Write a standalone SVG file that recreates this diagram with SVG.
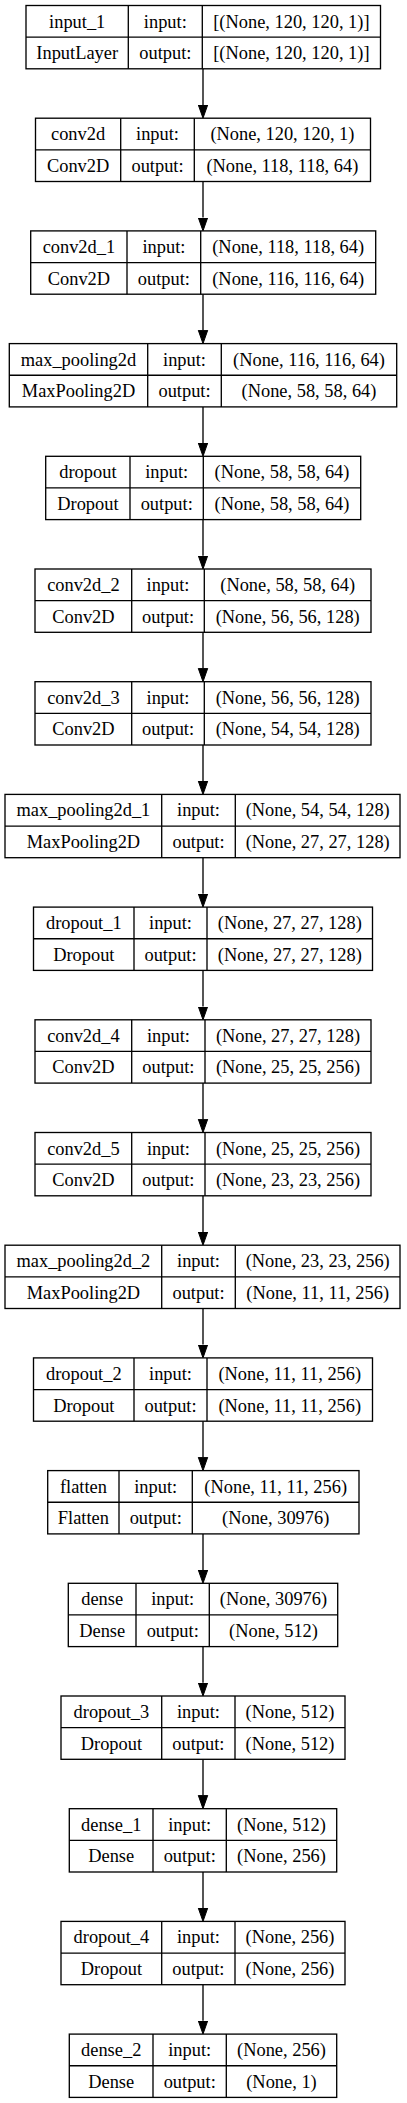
<svg xmlns="http://www.w3.org/2000/svg" width="407" height="2103" viewBox="0 0 407 2103" font-size="18.4">
<style>
.box{fill:#fff;stroke:#000;stroke-width:1.33}
.ln{stroke:#000;stroke-width:1.33;fill:none}
text{fill:#000;text-anchor:middle;font-family:"Liberation Serif","Times New Roman",serif}
.edge{stroke:#000;stroke-width:1.33;fill:none;marker-end:url(#arr)}
</style>
<defs>
<marker id="arr" markerUnits="userSpaceOnUse" markerWidth="16" markerHeight="12" refX="0" refY="0" viewBox="0 -6 16 12" orient="auto">
<path d="M0,-4.7 L13.3,0 L0,4.7 z" fill="#000" stroke="#000" stroke-width="1"/>
</marker>
</defs>
<rect width="407" height="2103" fill="#fff"/>
<g id="connectors">
<line class="edge" x1="203" y1="68.8" x2="203" y2="104.9"/>
<line class="edge" x1="203" y1="181.5" x2="203" y2="217.6"/>
<line class="edge" x1="203" y1="294.2" x2="203" y2="330.3"/>
<line class="edge" x1="203" y1="406.9" x2="203" y2="443.0"/>
<line class="edge" x1="203" y1="519.6" x2="203" y2="555.7"/>
<line class="edge" x1="203" y1="632.3" x2="203" y2="668.4"/>
<line class="edge" x1="203" y1="745.0" x2="203" y2="781.1"/>
<line class="edge" x1="203" y1="857.7" x2="203" y2="893.8"/>
<line class="edge" x1="203" y1="970.4" x2="203" y2="1006.5"/>
<line class="edge" x1="203" y1="1083.1" x2="203" y2="1119.2"/>
<line class="edge" x1="203" y1="1195.8" x2="203" y2="1231.9"/>
<line class="edge" x1="203" y1="1308.5" x2="203" y2="1344.6"/>
<line class="edge" x1="203" y1="1421.2" x2="203" y2="1457.3"/>
<line class="edge" x1="203" y1="1533.9" x2="203" y2="1570.0"/>
<line class="edge" x1="203" y1="1646.6" x2="203" y2="1682.7"/>
<line class="edge" x1="203" y1="1759.3" x2="203" y2="1795.4"/>
<line class="edge" x1="203" y1="1872.0" x2="203" y2="1908.1"/>
<line class="edge" x1="203" y1="1984.7" x2="203" y2="2020.8"/>
</g>

<g id="input_1" transform="translate(0,5.5)">
<rect class="box" x="26" y="0" width="354.5" height="63.3"/>
<line class="ln" x1="26" y1="31.65" x2="380.5" y2="31.65"/>
<line class="ln" x1="128.3" y1="0" x2="128.3" y2="63.3"/>
<line class="ln" x1="202.3" y1="0" x2="202.3" y2="63.3"/>
<text x="77.2" y="22">input_1</text><text x="77.2" y="53.7">InputLayer</text>
<text x="165.3" y="22">input:</text><text x="165.3" y="53.7">output:</text>
<text x="291.4" y="22">[(None, 120, 120, 1)]</text><text x="291.4" y="53.7">[(None, 120, 120, 1)]</text>
</g>

<g id="conv2d" transform="translate(0,118.2)">
<rect class="box" x="35.5" y="0" width="335" height="63.3"/>
<line class="ln" x1="35.5" y1="31.65" x2="370.5" y2="31.65"/>
<line class="ln" x1="120.7" y1="0" x2="120.7" y2="63.3"/>
<line class="ln" x1="194.3" y1="0" x2="194.3" y2="63.3"/>
<text x="78.1" y="22">conv2d</text><text x="78.1" y="53.7">Conv2D</text>
<text x="157.5" y="22">input:</text><text x="157.5" y="53.7">output:</text>
<text x="282.4" y="22">(None, 120, 120, 1)</text><text x="282.4" y="53.7">(None, 118, 118, 64)</text>
</g>

<g id="conv2d_1" transform="translate(0,230.9)">
<rect class="box" x="30.7" y="0" width="345" height="63.3"/>
<line class="ln" x1="30.7" y1="31.65" x2="375.7" y2="31.65"/>
<line class="ln" x1="127" y1="0" x2="127" y2="63.3"/>
<line class="ln" x1="200.7" y1="0" x2="200.7" y2="63.3"/>
<text x="78.9" y="22">conv2d_1</text><text x="78.9" y="53.7">Conv2D</text>
<text x="163.9" y="22">input:</text><text x="163.9" y="53.7">output:</text>
<text x="288.2" y="22">(None, 118, 118, 64)</text><text x="288.2" y="53.7">(None, 116, 116, 64)</text>
</g>

<g id="max_pooling2d" transform="translate(0,343.6)">
<rect class="box" x="9.3" y="0" width="387.4" height="63.3"/>
<line class="ln" x1="9.3" y1="31.65" x2="396.7" y2="31.65"/>
<line class="ln" x1="147.7" y1="0" x2="147.7" y2="63.3"/>
<line class="ln" x1="221.3" y1="0" x2="221.3" y2="63.3"/>
<text x="78.5" y="22">max_pooling2d</text><text x="78.5" y="53.7">MaxPooling2D</text>
<text x="184.5" y="22">input:</text><text x="184.5" y="53.7">output:</text>
<text x="309" y="22">(None, 116, 116, 64)</text><text x="309" y="53.7">(None, 58, 58, 64)</text>
</g>

<g id="dropout" transform="translate(0,456.3)">
<rect class="box" x="45.7" y="0" width="315" height="63.3"/>
<line class="ln" x1="45.7" y1="31.65" x2="360.7" y2="31.65"/>
<line class="ln" x1="130" y1="0" x2="130" y2="63.3"/>
<line class="ln" x1="203.3" y1="0" x2="203.3" y2="63.3"/>
<text x="87.9" y="22">dropout</text><text x="87.9" y="53.7">Dropout</text>
<text x="166.7" y="22">input:</text><text x="166.7" y="53.7">output:</text>
<text x="282" y="22">(None, 58, 58, 64)</text><text x="282" y="53.7">(None, 58, 58, 64)</text>
</g>

<g id="conv2d_2" transform="translate(0,569)">
<rect class="box" x="35" y="0" width="336" height="63.3"/>
<line class="ln" x1="35" y1="31.65" x2="371" y2="31.65"/>
<line class="ln" x1="131.7" y1="0" x2="131.7" y2="63.3"/>
<line class="ln" x1="204.3" y1="0" x2="204.3" y2="63.3"/>
<text x="83.4" y="22">conv2d_2</text><text x="83.4" y="53.7">Conv2D</text>
<text x="168" y="22">input:</text><text x="168" y="53.7">output:</text>
<text x="287.7" y="22">(None, 58, 58, 64)</text><text x="287.7" y="53.7">(None, 56, 56, 128)</text>
</g>

<g id="conv2d_3" transform="translate(0,681.7)">
<rect class="box" x="35" y="0" width="336" height="63.3"/>
<line class="ln" x1="35" y1="31.65" x2="371" y2="31.65"/>
<line class="ln" x1="131.7" y1="0" x2="131.7" y2="63.3"/>
<line class="ln" x1="204.3" y1="0" x2="204.3" y2="63.3"/>
<text x="83.4" y="22">conv2d_3</text><text x="83.4" y="53.7">Conv2D</text>
<text x="168" y="22">input:</text><text x="168" y="53.7">output:</text>
<text x="287.7" y="22">(None, 56, 56, 128)</text><text x="287.7" y="53.7">(None, 54, 54, 128)</text>
</g>

<g id="max_pooling2d_1" transform="translate(0,794.4)">
<rect class="box" x="5" y="0" width="395" height="63.3"/>
<line class="ln" x1="5" y1="31.65" x2="400" y2="31.65"/>
<line class="ln" x1="161.7" y1="0" x2="161.7" y2="63.3"/>
<line class="ln" x1="235.3" y1="0" x2="235.3" y2="63.3"/>
<text x="83.4" y="22">max_pooling2d_1</text><text x="83.4" y="53.7">MaxPooling2D</text>
<text x="198.5" y="22">input:</text><text x="198.5" y="53.7">output:</text>
<text x="317.7" y="22">(None, 54, 54, 128)</text><text x="317.7" y="53.7">(None, 27, 27, 128)</text>
</g>

<g id="dropout_1" transform="translate(0,907.1)">
<rect class="box" x="33.5" y="0" width="339" height="63.3"/>
<line class="ln" x1="33.5" y1="31.65" x2="372.5" y2="31.65"/>
<line class="ln" x1="134" y1="0" x2="134" y2="63.3"/>
<line class="ln" x1="207" y1="0" x2="207" y2="63.3"/>
<text x="83.8" y="22">dropout_1</text><text x="83.8" y="53.7">Dropout</text>
<text x="170.5" y="22">input:</text><text x="170.5" y="53.7">output:</text>
<text x="289.8" y="22">(None, 27, 27, 128)</text><text x="289.8" y="53.7">(None, 27, 27, 128)</text>
</g>

<g id="conv2d_4" transform="translate(0,1019.8)">
<rect class="box" x="35" y="0" width="336" height="63.3"/>
<line class="ln" x1="35" y1="31.65" x2="371" y2="31.65"/>
<line class="ln" x1="131.7" y1="0" x2="131.7" y2="63.3"/>
<line class="ln" x1="205" y1="0" x2="205" y2="63.3"/>
<text x="83.4" y="22">conv2d_4</text><text x="83.4" y="53.7">Conv2D</text>
<text x="168.4" y="22">input:</text><text x="168.4" y="53.7">output:</text>
<text x="288" y="22">(None, 27, 27, 128)</text><text x="288" y="53.7">(None, 25, 25, 256)</text>
</g>

<g id="conv2d_5" transform="translate(0,1132.5)">
<rect class="box" x="35" y="0" width="336" height="63.3"/>
<line class="ln" x1="35" y1="31.65" x2="371" y2="31.65"/>
<line class="ln" x1="131.7" y1="0" x2="131.7" y2="63.3"/>
<line class="ln" x1="205" y1="0" x2="205" y2="63.3"/>
<text x="83.4" y="22">conv2d_5</text><text x="83.4" y="53.7">Conv2D</text>
<text x="168.4" y="22">input:</text><text x="168.4" y="53.7">output:</text>
<text x="288" y="22">(None, 25, 25, 256)</text><text x="288" y="53.7">(None, 23, 23, 256)</text>
</g>

<g id="max_pooling2d_2" transform="translate(0,1245.2)">
<rect class="box" x="5" y="0" width="395" height="63.3"/>
<line class="ln" x1="5" y1="31.65" x2="400" y2="31.65"/>
<line class="ln" x1="161.7" y1="0" x2="161.7" y2="63.3"/>
<line class="ln" x1="235.3" y1="0" x2="235.3" y2="63.3"/>
<text x="83.4" y="22">max_pooling2d_2</text><text x="83.4" y="53.7">MaxPooling2D</text>
<text x="198.5" y="22">input:</text><text x="198.5" y="53.7">output:</text>
<text x="317.7" y="22">(None, 23, 23, 256)</text><text x="317.7" y="53.7">(None, 11, 11, 256)</text>
</g>

<g id="dropout_2" transform="translate(0,1357.9)">
<rect class="box" x="33.5" y="0" width="339" height="63.3"/>
<line class="ln" x1="33.5" y1="31.65" x2="372.5" y2="31.65"/>
<line class="ln" x1="134" y1="0" x2="134" y2="63.3"/>
<line class="ln" x1="207" y1="0" x2="207" y2="63.3"/>
<text x="83.8" y="22">dropout_2</text><text x="83.8" y="53.7">Dropout</text>
<text x="170.5" y="22">input:</text><text x="170.5" y="53.7">output:</text>
<text x="289.8" y="22">(None, 11, 11, 256)</text><text x="289.8" y="53.7">(None, 11, 11, 256)</text>
</g>

<g id="flatten" transform="translate(0,1470.6)">
<rect class="box" x="47.7" y="0" width="311.3" height="63.3"/>
<line class="ln" x1="47.7" y1="31.65" x2="359" y2="31.65"/>
<line class="ln" x1="119" y1="0" x2="119" y2="63.3"/>
<line class="ln" x1="192.3" y1="0" x2="192.3" y2="63.3"/>
<text x="83.4" y="22">flatten</text><text x="83.4" y="53.7">Flatten</text>
<text x="155.7" y="22">input:</text><text x="155.7" y="53.7">output:</text>
<text x="275.7" y="22">(None, 11, 11, 256)</text><text x="275.7" y="53.7">(None, 30976)</text>
</g>

<g id="dense" transform="translate(0,1583.3)">
<rect class="box" x="68.3" y="0" width="269.4" height="63.3"/>
<line class="ln" x1="68.3" y1="31.65" x2="337.7" y2="31.65"/>
<line class="ln" x1="136" y1="0" x2="136" y2="63.3"/>
<line class="ln" x1="209.3" y1="0" x2="209.3" y2="63.3"/>
<text x="102.2" y="22">dense</text><text x="102.2" y="53.7">Dense</text>
<text x="172.7" y="22">input:</text><text x="172.7" y="53.7">output:</text>
<text x="273.5" y="22">(None, 30976)</text><text x="273.5" y="53.7">(None, 512)</text>
</g>

<g id="dropout_3" transform="translate(0,1696)">
<rect class="box" x="61" y="0" width="284" height="63.3"/>
<line class="ln" x1="61" y1="31.65" x2="345" y2="31.65"/>
<line class="ln" x1="161.7" y1="0" x2="161.7" y2="63.3"/>
<line class="ln" x1="235" y1="0" x2="235" y2="63.3"/>
<text x="111.4" y="22">dropout_3</text><text x="111.4" y="53.7">Dropout</text>
<text x="198.4" y="22">input:</text><text x="198.4" y="53.7">output:</text>
<text x="290" y="22">(None, 512)</text><text x="290" y="53.7">(None, 512)</text>
</g>

<g id="dense_1" transform="translate(0,1808.7)">
<rect class="box" x="69.3" y="0" width="267.4" height="63.3"/>
<line class="ln" x1="69.3" y1="31.65" x2="336.7" y2="31.65"/>
<line class="ln" x1="153" y1="0" x2="153" y2="63.3"/>
<line class="ln" x1="226.3" y1="0" x2="226.3" y2="63.3"/>
<text x="111.2" y="22">dense_1</text><text x="111.2" y="53.7">Dense</text>
<text x="189.7" y="22">input:</text><text x="189.7" y="53.7">output:</text>
<text x="281.5" y="22">(None, 512)</text><text x="281.5" y="53.7">(None, 256)</text>
</g>

<g id="dropout_4" transform="translate(0,1921.4)">
<rect class="box" x="61" y="0" width="284" height="63.3"/>
<line class="ln" x1="61" y1="31.65" x2="345" y2="31.65"/>
<line class="ln" x1="161.7" y1="0" x2="161.7" y2="63.3"/>
<line class="ln" x1="235" y1="0" x2="235" y2="63.3"/>
<text x="111.4" y="22">dropout_4</text><text x="111.4" y="53.7">Dropout</text>
<text x="198.4" y="22">input:</text><text x="198.4" y="53.7">output:</text>
<text x="290" y="22">(None, 256)</text><text x="290" y="53.7">(None, 256)</text>
</g>

<g id="dense_2" transform="translate(0,2034.1)">
<rect class="box" x="69.3" y="0" width="267.4" height="63.3"/>
<line class="ln" x1="69.3" y1="31.65" x2="336.7" y2="31.65"/>
<line class="ln" x1="153" y1="0" x2="153" y2="63.3"/>
<line class="ln" x1="226.3" y1="0" x2="226.3" y2="63.3"/>
<text x="111.2" y="22">dense_2</text><text x="111.2" y="53.7">Dense</text>
<text x="189.7" y="22">input:</text><text x="189.7" y="53.7">output:</text>
<text x="281.5" y="22">(None, 256)</text><text x="281.5" y="53.7">(None, 1)</text>
</g>
</svg>
